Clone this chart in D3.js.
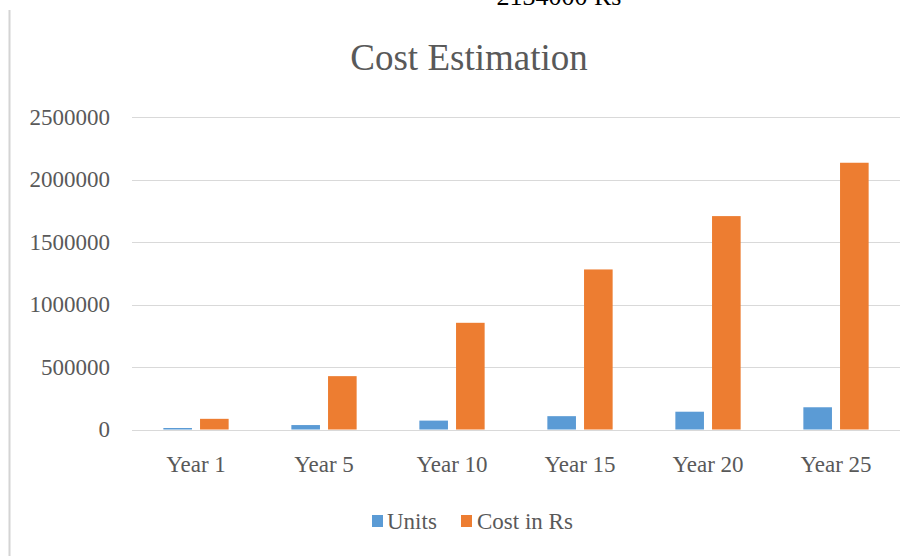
<!DOCTYPE html>
<html>
<head>
<meta charset="utf-8">
<script src="https://cdn.jsdelivr.net/npm/d3@7"></script>
<style>
  html, body { margin: 0; padding: 0; background: #fff; }
  svg { display: block; }
  text { font-family: "Liberation Serif", "Times New Roman", serif; }
</style>
</head>
<body>
<svg id="chart" width="915" height="556"></svg>
<script>
const categories = ["Year 1", "Year 5", "Year 10", "Year 15", "Year 20", "Year 25"];
const seriesNames = ["Units", "Cost in Rs"];
const units = [12000, 35567, 71133, 106700, 142267, 177833];
const cost = [85360, 426800, 853600, 1280400, 1707200, 2134000];
const yTicks = [0, 500000, 1000000, 1500000, 2000000, 2500000];
const colors = ["#5B9BD5", "#ED7D31"];
const title = "Cost Estimation";
const topNote = "2134000 Rs";

const svg = d3.select("#chart");
const W = 915, H = 556;
const margin = { left: 132, right: 15, top: 117, bottom: 126.5 };

// page frame line on the left
svg.append("line")
  .attr("x1", 9.5).attr("x2", 9.5).attr("y1", 10).attr("y2", H)
  .attr("stroke", "#d4d4d4").attr("stroke-width", 2);

// clipped note at very top
svg.append("text")
  .attr("x", 559).attr("y", 5)
  .attr("text-anchor", "middle")
  .attr("font-size", 26)
  .attr("fill", "#000")
  .text(topNote);

const x0 = d3.scaleBand()
  .domain(categories)
  .range([margin.left, W - margin.right])
  .paddingInner(0.49)
  .paddingOuter(0.245);

const x1 = d3.scaleBand()
  .domain(seriesNames)
  .range([0, x0.bandwidth()])
  .paddingInner(0.22);

const y = d3.scaleLinear()
  .domain([0, 2500000])
  .range([H - margin.bottom, margin.top]);

// gridlines
svg.append("g")
  .selectAll("line")
  .data(yTicks)
  .join("line")
  .attr("x1", margin.left).attr("x2", W - margin.right)
  .attr("y1", d => Math.round(y(d)) + 0.5).attr("y2", d => Math.round(y(d)) + 0.5)
  .attr("stroke", "#d9d9d9").attr("stroke-width", 1);

// y axis labels
const yAxis = d3.axisLeft(y).tickValues(yTicks).tickSize(0).tickPadding(0)
  .tickFormat(d3.format("d"));
const yg = svg.append("g").attr("transform", `translate(110,0)`).call(yAxis);
yg.select(".domain").remove();
yg.selectAll("text")
  .attr("font-family", "'Liberation Serif', 'Times New Roman', serif")
  .attr("font-size", 23).attr("fill", "#595959");

// bars
const data = categories.map((c, i) => ({ cat: c, vals: [units[i], cost[i]] }));
const groups = svg.append("g").selectAll("g")
  .data(data)
  .join("g")
  .attr("transform", d => `translate(${x0(d.cat)},0)`);
groups.selectAll("rect")
  .data(d => d.vals.map((v, j) => ({ name: seriesNames[j], v, j })))
  .join("rect")
  .attr("x", d => x1(d.name))
  .attr("width", x1.bandwidth())
  .attr("y", d => y(d.v))
  .attr("height", d => y(0) - y(d.v))
  .attr("fill", d => colors[d.j]);

// x axis labels
const xAxis = d3.axisBottom(x0).tickSize(0).tickPadding(0);
const xg = svg.append("g").attr("transform", `translate(0,${y(0)})`).call(xAxis);
xg.select(".domain").remove();
xg.selectAll("text")
  .attr("font-family", "'Liberation Serif', 'Times New Roman', serif")
  .attr("font-size", 23).attr("fill", "#595959")
  .attr("dy", null).attr("y", 42);

// title
svg.append("text")
  .attr("x", 469).attr("y", 70)
  .attr("text-anchor", "middle")
  .attr("font-size", 37)
  .attr("fill", "#595959")
  .text(title);

// legend
const legendItems = [
  { name: seriesNames[0], color: colors[0], sx: 372, tx: 387 },
  { name: seriesNames[1], color: colors[1], sx: 461, tx: 477 }
];
const lg = svg.append("g");
legendItems.forEach(it => {
  lg.append("rect").attr("x", it.sx).attr("y", 515).attr("width", 11).attr("height", 12)
    .attr("fill", it.color);
  lg.append("text").attr("x", it.tx).attr("y", 529)
    .attr("font-size", 23).attr("fill", "#595959").text(it.name);
});
</script>
</body>
</html>
